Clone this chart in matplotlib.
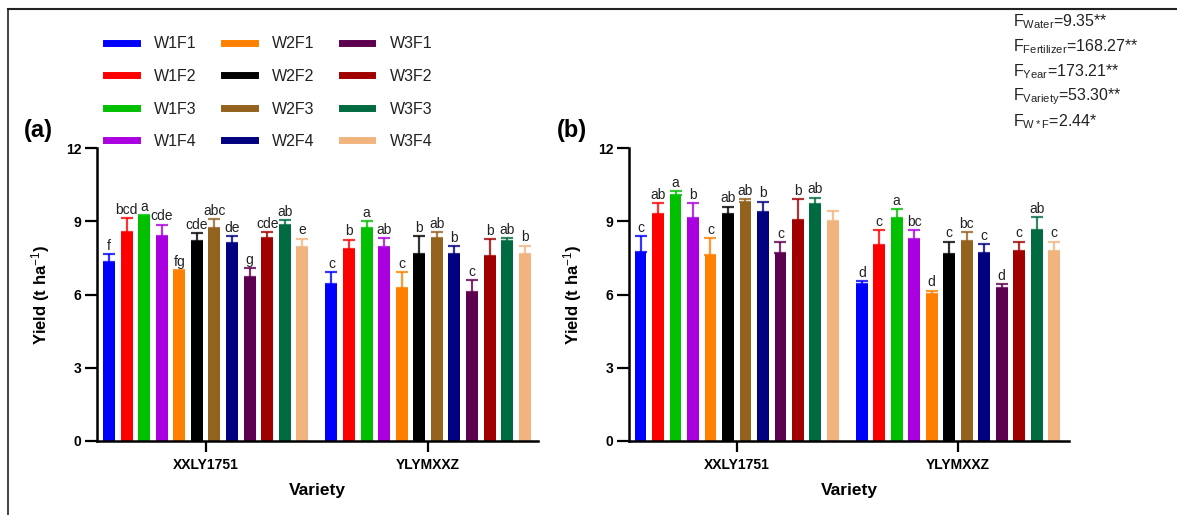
import matplotlib
matplotlib.use("Agg")
import matplotlib.pyplot as plt
from matplotlib.lines import Line2D
import numpy as np

plt.rcParams['font.family'] = ['Liberation Sans', 'DejaVu Sans']
plt.rcParams['mathtext.fontset'] = 'custom'
plt.rcParams['mathtext.rm'] = 'Liberation Sans'
plt.rcParams['mathtext.it'] = 'Liberation Sans'
plt.rcParams['mathtext.bf'] = 'Liberation Sans:bold'

treatments = ["W1F1", "W1F2", "W1F3", "W1F4", "W2F1", "W2F2", "W2F3", "W2F4",
              "W3F1", "W3F2", "W3F3", "W3F4"]
colors = ["#0000FF", "#FF0000", "#00C000", "#AA00E0", "#FF8000", "#000000",
          "#94621F", "#000080", "#5E0050", "#A00000", "#006A40", "#F2B47E"]
varieties = ["XXLY1751", "YLYMXXZ"]

# Panel (a)
a_mean_xx = [7.34, 8.56, 9.20, 8.40, 6.96, 8.18, 8.72, 8.10, 6.73, 8.33, 8.86, 7.95]
a_err_xx = [0.30, 0.58, 0.05, 0.46, 0.03, 0.34, 0.36, 0.28, 0.34, 0.23, 0.18, 0.34]
a_let_xx = ["f", "bcd", "a", "cde", "fg", "cde", "abc", "de", "g", "cde", "ab", "e"]
a_mean_yl = [6.41, 7.88, 8.72, 7.95, 6.25, 7.65, 8.33, 7.65, 6.10, 7.57, 8.18, 7.65]
a_err_yl = [0.52, 0.37, 0.29, 0.37, 0.68, 0.73, 0.22, 0.33, 0.49, 0.69, 0.12, 0.35]
a_let_yl = ["c", "b", "a", "ab", "c", "b", "ab", "b", "c", "b", "ab", "b"]

# Panel (b)
b_mean_xx = [7.75, 9.30, 10.07, 9.15, 7.61, 9.30, 9.77, 9.39, 7.69, 9.07, 9.69, 9.00]
b_err_xx = [0.65, 0.44, 0.16, 0.59, 0.71, 0.30, 0.13, 0.41, 0.44, 0.83, 0.28, 0.43]
b_let_xx = ["c", "ab", "a", "b", "c", "ab", "ab", "b", "c", "b", "ab", ""]
b_mean_yl = [6.45, 8.03, 9.13, 8.26, 6.02, 7.65, 8.20, 7.72, 6.26, 7.80, 8.65, 7.80]
b_err_yl = [0.11, 0.62, 0.36, 0.39, 0.14, 0.52, 0.34, 0.35, 0.17, 0.37, 0.52, 0.37]
b_let_yl = ["d", "c", "a", "bc", "d", "c", "bc", "c", "d", "c", "ab", "c"]

stats_lines = [r"F$_{\rm Water}$=9.35**", r"F$_{\rm Fertilizer}$=168.27**",
               r"F$_{\rm Year}$=173.21**", r"F$_{\rm Variety}$=53.30**",
               r"F$_{\rm W*F}$=2.44*"]

W, H = 1177, 515
fig = plt.figure(figsize=(W / 100, H / 100), dpi=100)

# frame lines (top and left)
fig.add_artist(Line2D([8 / W, 1.0], [1 - 9 / H, 1 - 9 / H], color="#222222", lw=1.5))
fig.add_artist(Line2D([8 / W, 8 / W], [0, 1 - 9 / H], color="#222222", lw=1.2))

gap = 0.65
n = len(treatments)


def draw_panel(ax, means, errs, lets, label, xlim, label_x):
    pos = []
    for g in range(2):
        base = g * (n + gap)
        for i in range(n):
            x = base + i
            m = means[g][i]
            e = errs[g][i]
            ax.bar(x, m, width=0.68, color=colors[i], zorder=2)
            ax.errorbar(x, m, yerr=[[0], [e]], fmt='none', ecolor=colors[i],
                        elinewidth=1.6, capsize=4, capthick=1.6, zorder=1, alpha=0.8)
            if lets[g][i]:
                ax.text(x, m + e + 0.05, lets[g][i], ha='center', va='bottom',
                        fontsize=10, color="#222222")
        pos.append(base + (n - 1) / 2)
    ax.set_xlim(*xlim)
    ax.set_ylim(0, 12)
    ax.set_yticks([0, 3, 6, 9, 12])
    ax.set_xticks(pos)
    ax.set_xticklabels(varieties, fontweight='bold', fontsize=10)
    for t in ax.get_yticklabels():
        t.set_fontweight('bold')
        t.set_fontsize(10)
    ax.spines['top'].set_visible(False)
    ax.spines['right'].set_visible(False)
    ax.spines['left'].set_linewidth(1.8)
    ax.spines['bottom'].set_linewidth(1.8)
    ax.tick_params(axis='y', length=9, width=1.6, pad=2)
    ax.tick_params(axis='x', length=8, width=1.6, pad=4)
    ax.set_ylabel(r"Yield (t ha$^{-1}$)", fontsize=12, fontweight='bold', labelpad=10)
    ax.set_xlabel("Variety", fontsize=12.5, fontweight='bold', labelpad=8)
    ax.text(label_x, 1.02, label, transform=ax.transAxes, fontsize=17,
            fontweight='bold', ha='left', va='bottom')


ax1 = fig.add_axes([97 / W, 1 - 441 / H, 441 / W, 293 / H])
draw_panel(ax1, [a_mean_xx, a_mean_yl], [a_err_xx, a_err_yl],
           [a_let_xx, a_let_yl], "(a)", (-0.68, 24.4), -0.165)
ax2 = fig.add_axes([629 / W, 1 - 441 / H, 440 / W, 293 / H])
draw_panel(ax2, [b_mean_xx, b_mean_yl], [b_err_xx, b_err_yl],
           [b_let_xx, b_let_yl], "(b)", (-0.66, 24.5), -0.165)

# legend
handles = [Line2D([0], [0], color=c, lw=5) for c in colors]
fig.legend(handles, treatments, ncol=3, loc='upper left',
           bbox_to_anchor=(92 / W, 1 - 22 / H), frameon=False,
           fontsize=11.5, handlelength=1.9, handletextpad=1.1,
           columnspacing=1.7, labelspacing=1.1, labelcolor="#222222")

for i, s in enumerate(stats_lines):
    fig.text(1013 / W, 1 - (22 + 25 * i) / H, s, fontsize=11.5, ha='left',
             va='center', color="#222222")

fig.savefig("out.png", dpi=100)
